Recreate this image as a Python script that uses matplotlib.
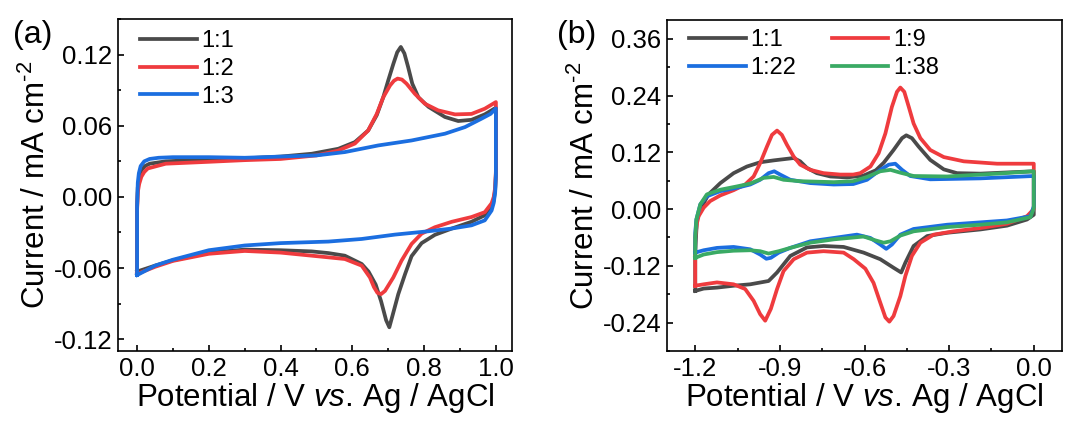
import matplotlib
matplotlib.use("Agg")
import matplotlib.pyplot as plt
from matplotlib.ticker import MultipleLocator, FormatStrFormatter

plt.rcParams['font.family'] = ['Liberation Sans', 'DejaVu Sans']
plt.rcParams['mathtext.fontset'] = 'custom'
plt.rcParams['mathtext.rm'] = 'Liberation Sans'
plt.rcParams['mathtext.it'] = 'Liberation Sans:italic'

# ---- panel (a): CV loops, potential (V) and current density (mA cm-2) ----
a_labels = ['1:1', '1:2', '1:3']

a11_E = [0.0, 0.0, 0.002, 0.006, 0.012, 0.022, 0.035, 0.08, 0.2, 0.3, 0.4, 0.487,
         0.561, 0.607, 0.644, 0.668, 0.686, 0.700, 0.714, 0.725, 0.735, 0.745,
         0.755, 0.767, 0.784, 0.812, 0.858, 0.895, 0.932, 0.969, 1.0,
         1.0, 0.998, 0.994, 0.988, 0.969, 0.932, 0.877, 0.830, 0.793, 0.765, 0.747,
         0.728, 0.712, 0.703, 0.694, 0.680, 0.665, 0.645, 0.626, 0.579, 0.533,
         0.487, 0.4, 0.3, 0.2, 0.1, 0.05, 0.0]
a11_j = [-0.063, -0.010, 0.008, 0.016, 0.0225, 0.026, 0.028, 0.030, 0.0316, 0.0325,
         0.034, 0.0364, 0.0406, 0.0462, 0.056, 0.069, 0.084, 0.0983, 0.112, 0.122,
         0.1265, 0.121, 0.110, 0.0955, 0.084, 0.076, 0.0674, 0.064, 0.065, 0.0696,
         0.0752,
         0.020, 0.006, -0.003, -0.0085, -0.0155, -0.021, -0.0267, -0.032, -0.039,
         -0.050, -0.065, -0.082, -0.100, -0.110, -0.104, -0.088, -0.074, -0.063,
         -0.0566, -0.0496, -0.0474, -0.046, -0.045, -0.0445, -0.047, -0.0535,
         -0.058, -0.063]

a12_E = [0.0, 0.0, 0.002, 0.006, 0.012, 0.02, 0.03, 0.08, 0.2, 0.3, 0.4, 0.5, 0.56,
         0.607, 0.644, 0.668, 0.686, 0.705, 0.716, 0.726, 0.738, 0.751, 0.774,
         0.802, 0.839, 0.886, 0.932, 0.969, 1.0,
         1.0, 0.998, 0.994, 0.988, 0.969, 0.932, 0.877, 0.830, 0.793, 0.765, 0.737,
         0.714, 0.691, 0.680, 0.670, 0.660, 0.649, 0.626, 0.579, 0.5, 0.4, 0.3,
         0.2, 0.1, 0.05, 0.0]
a12_j = [-0.065, -0.012, 0.004, 0.011, 0.017, 0.021, 0.024, 0.028, 0.0296, 0.031,
         0.032, 0.035, 0.039, 0.045, 0.056, 0.070, 0.084, 0.094, 0.098, 0.0998,
         0.099, 0.0955, 0.087, 0.0786, 0.073, 0.0696, 0.070, 0.0744, 0.080,
         0.022, 0.008, 0.000, -0.0054, -0.0129, -0.017, -0.021, -0.0256, -0.031,
         -0.0397, -0.0538, -0.068, -0.0793, -0.082, -0.081, -0.076, -0.068,
         -0.058, -0.0524, -0.050, -0.047, -0.0456, -0.048, -0.054, -0.059, -0.065]

a13_E = [0.0, 0.0, 0.002, 0.005, 0.01, 0.02, 0.035, 0.06, 0.1, 0.2, 0.3, 0.4, 0.5,
         0.579, 0.672, 0.765, 0.858, 0.914, 0.960, 0.985, 1.0,
         1.0, 0.998, 0.994, 0.988, 0.969, 0.932, 0.877, 0.812, 0.719, 0.626,
         0.533, 0.45, 0.4, 0.3, 0.2, 0.1, 0.05, 0.0]
a13_j = [-0.066, -0.008, 0.012, 0.020, 0.026, 0.030, 0.032, 0.033, 0.0335, 0.0335,
         0.033, 0.034, 0.035, 0.0378, 0.0434, 0.0476, 0.0533, 0.0589, 0.066, 0.070,
         0.0746,
         0.018, 0.004, -0.005, -0.0115, -0.0198, -0.024, -0.0267, -0.029, -0.0318,
         -0.0355, -0.0377, -0.0385, -0.039, -0.041, -0.045, -0.053, -0.058, -0.066]

# ---- panel (b) ----
b_labels = ['1:1', '1:9', '1:22', '1:38']

b11_E = [-1.2, -1.2, -1.194, -1.176, -1.153, -1.111, -1.064, -1.017, -0.970, -0.922,
         -0.851, -0.828, -0.804, -0.769, -0.721, -0.662, -0.603, -0.560, -0.532,
         -0.497, -0.467, -0.452, -0.432, -0.408, -0.367, -0.319, -0.272, -0.189,
         0.0,
         0.0, 0.0, -0.024, -0.095, -0.189, -0.307, -0.378, -0.426, -0.455, -0.470,
         -0.497, -0.544, -0.603, -0.674, -0.745, -0.804, -0.863, -0.910, -0.940,
         -1.005, -1.064, -1.123, -1.170, -1.2]
b11_j = [-0.173, -0.09, -0.022, 0.006, 0.031, 0.055, 0.076, 0.090, 0.099, 0.103,
         0.108, 0.101, 0.087, 0.076, 0.069, 0.067, 0.071, 0.082, 0.098, 0.125,
         0.150, 0.156, 0.150, 0.132, 0.104, 0.084, 0.076, 0.075, 0.080,
         0.080, -0.012, -0.022, -0.035, -0.043, -0.050, -0.057, -0.078, -0.113,
         -0.134, -0.124, -0.106, -0.092, -0.080, -0.078, -0.081, -0.099, -0.134,
         -0.152, -0.159, -0.162, -0.166, -0.168, -0.173]

b19_E = [-1.2, -1.2, -1.194, -1.188, -1.170, -1.147, -1.111, -1.064, -1.023, -0.993,
         -0.970, -0.946, -0.928, -0.910, -0.893, -0.875, -0.851, -0.828, -0.792,
         -0.745, -0.686, -0.640, -0.615, -0.579, -0.550, -0.526, -0.503, -0.485,
         -0.473, -0.459, -0.443, -0.426, -0.402, -0.367, -0.319, -0.248, -0.130,
         0.0,
         0.0, 0.0, -0.024, -0.095, -0.189, -0.284, -0.355, -0.402, -0.432, -0.455,
         -0.473, -0.497, -0.512, -0.526, -0.544, -0.568, -0.597, -0.638, -0.674,
         -0.745, -0.804, -0.851, -0.887, -0.910, -0.932, -0.952, -0.970, -0.993,
         -1.023, -1.064, -1.123, -1.170, -1.2]
b19_j = [-0.162, -0.06, -0.030, -0.015, 0.003, 0.017, 0.029, 0.040, 0.052, 0.069,
         0.097, 0.132, 0.157, 0.166, 0.157, 0.136, 0.111, 0.094, 0.083, 0.076,
         0.073, 0.073, 0.076, 0.090, 0.118, 0.160, 0.216, 0.248, 0.257, 0.248,
         0.216, 0.181, 0.150, 0.125, 0.110, 0.101, 0.096, 0.096,
         0.096, 0.000, -0.015, -0.031, -0.040, -0.047, -0.054, -0.071, -0.099,
         -0.141, -0.184, -0.226, -0.238, -0.229, -0.198, -0.156, -0.126, -0.106,
         -0.092, -0.089, -0.092, -0.106, -0.131, -0.169, -0.211, -0.236, -0.222,
         -0.194, -0.169, -0.159, -0.155, -0.159, -0.162]

b122_E = [-1.2, -1.2, -1.196, -1.182, -1.159, -1.111, -1.052, -1.005, -0.970, -0.940,
          -0.920, -0.899, -0.863, -0.792, -0.709, -0.640, -0.591, -0.544, -0.514,
          -0.491, -0.467, -0.438, -0.367, -0.189, 0.0,
          0.0, 0.0, -0.012, -0.095, -0.189, -0.307, -0.426, -0.473, -0.503, -0.523,
          -0.544, -0.579, -0.627, -0.709, -0.792, -0.863, -0.904, -0.932, -0.948,
          -0.970, -1.005, -1.064, -1.123, -1.170, -1.2]
b122_j = [-0.092, -0.05, -0.022, 0.010, 0.027, 0.038, 0.045, 0.052, 0.062, 0.076,
          0.080, 0.073, 0.062, 0.055, 0.052, 0.053, 0.062, 0.083, 0.094, 0.096,
          0.083, 0.070, 0.063, 0.065, 0.070,
          0.070, 0.006, -0.015, -0.024, -0.028, -0.033, -0.042, -0.054, -0.075,
          -0.084, -0.075, -0.061, -0.054, -0.061, -0.068, -0.082, -0.092, -0.103,
          -0.105, -0.096, -0.085, -0.080, -0.082, -0.087, -0.092]

b138_E = [-1.2, -1.2, -1.196, -1.182, -1.159, -1.111, -1.052, -1.005, -0.958, -0.922,
          -0.887, -0.828, -0.709, -0.640, -0.591, -0.544, -0.508, -0.473, -0.426,
          -0.307, -0.130, 0.0,
          0.0, 0.0, -0.012, -0.095, -0.189, -0.307, -0.426, -0.473, -0.508, -0.532,
          -0.562, -0.603, -0.709, -0.792, -0.863, -0.904, -0.940, -0.970, -1.005,
          -1.064, -1.123, -1.170, -1.2]
b138_j = [-0.103, -0.06, -0.022, 0.010, 0.031, 0.041, 0.048, 0.054, 0.066, 0.068,
          0.062, 0.059, 0.057, 0.059, 0.068, 0.080, 0.083, 0.077, 0.070, 0.069,
          0.075, 0.080,
          0.080, 0.002, -0.017, -0.028, -0.033, -0.038, -0.047, -0.056, -0.068,
          -0.071, -0.066, -0.058, -0.064, -0.071, -0.082, -0.089, -0.094, -0.089,
          -0.087, -0.088, -0.091, -0.096, -0.103]

GRAY, RED, BLUE, GREEN = '#4a4a4a', '#ef3b3e', '#1b6ee0', '#3aaa64'
LW = 2.7

fig = plt.figure(figsize=(10.86, 4.24), dpi=100)
ax1 = fig.add_axes([0.1087, 0.1722, 0.3628, 0.7828])
ax2 = fig.add_axes([0.6142, 0.1722, 0.3637, 0.7808])


def style(ax):
    for s in ax.spines.values():
        s.set_linewidth(1.2)
    ax.tick_params(which='both', direction='in', width=1.2, labelsize=18.5, pad=4)
    ax.tick_params(which='major', length=4.5)
    ax.tick_params(which='minor', length=2.5)
    ax.set_xlabel('Potential / V $\\it{vs.}\\,$Ag / AgCl', fontsize=22.5, labelpad=0)
    ax.set_ylabel('Current / mA cm$^{\\text{-2}}$', fontsize=22.5, labelpad=1)


for E, j, c, lab in zip([a11_E, a12_E, a13_E], [a11_j, a12_j, a13_j],
                        [GRAY, RED, BLUE], a_labels):
    ax1.plot(E, j, color=c, lw=LW, label=lab, solid_joinstyle='round')
ax1.set_xlim(-0.053, 1.045)
ax1.set_ylim(-0.13, 0.15)
ax1.xaxis.set_major_locator(MultipleLocator(0.2))
ax1.xaxis.set_minor_locator(MultipleLocator(0.1))
ax1.yaxis.set_major_locator(MultipleLocator(0.06))
ax1.yaxis.set_minor_locator(MultipleLocator(0.03))
ax1.xaxis.set_major_formatter(FormatStrFormatter('%.1f'))
ax1.yaxis.set_major_formatter(FormatStrFormatter('%.2f'))
style(ax1)
ax1.legend(loc='upper left', frameon=False, fontsize=17, handlelength=2.4,
           handletextpad=0.2, labelspacing=0.25, borderaxespad=0.2,
           bbox_to_anchor=(0.02, 1.01))

lines_b = []
for E, j, c, lab in zip([b11_E, b19_E, b122_E, b138_E], [b11_j, b19_j, b122_j, b138_j],
                        [GRAY, RED, BLUE, GREEN], b_labels):
    lines_b += ax2.plot(E, j, color=c, lw=LW, label=lab, solid_joinstyle='round')
ax2.set_xlim(-1.3, 0.1)
ax2.set_ylim(-0.30, 0.40)
ax2.xaxis.set_major_locator(MultipleLocator(0.3))
ax2.xaxis.set_minor_locator(MultipleLocator(0.15))
ax2.yaxis.set_major_locator(MultipleLocator(0.12))
ax2.yaxis.set_minor_locator(MultipleLocator(0.06))
ax2.xaxis.set_major_formatter(FormatStrFormatter('%.1f'))
ax2.yaxis.set_major_formatter(FormatStrFormatter('%.2f'))
style(ax2)
# legend reads row-wise: 1:1, 1:9 / 1:22, 1:38
order = [0, 2, 1, 3]
ax2.legend([lines_b[i] for i in order], [b_labels[i] for i in order],
           loc='upper left', frameon=False, fontsize=17, ncol=2, handlelength=2.4,
           handletextpad=0.2, labelspacing=0.25, columnspacing=1.5,
           borderaxespad=0.2, bbox_to_anchor=(0.02, 1.015))

fig.text(0.030, 0.917, '(a)', fontsize=23, ha='center', va='center')
fig.text(0.531, 0.917, '(b)', fontsize=23, ha='center', va='center')

fig.savefig('out.png', dpi=100)
